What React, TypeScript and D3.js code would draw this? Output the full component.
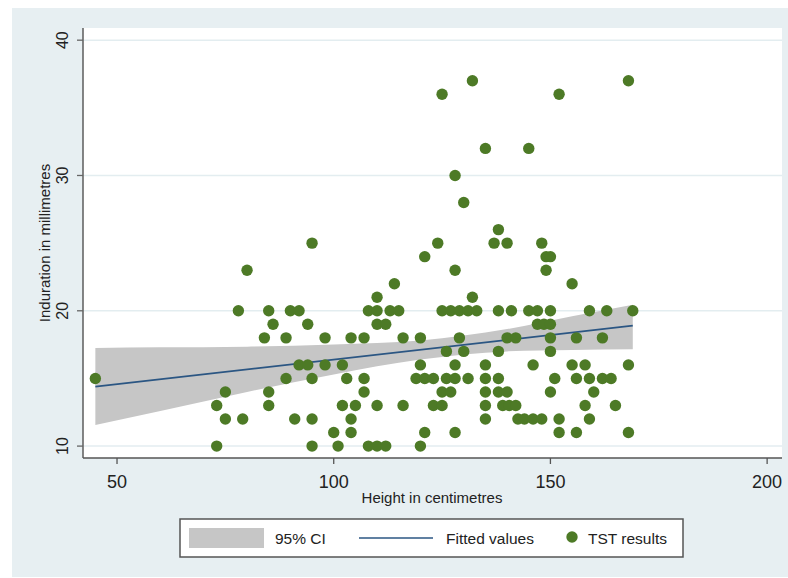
import React, { useEffect, useRef } from 'react';
import * as d3 from 'd3';

// induration rows (mm) and the heights (cm) of the children at each row
const indurationLevels = [37, 36, 32, 30, 28, 26, 25, 24, 23, 22, 21, 20, 19, 18, 17, 16, 15, 14, 13, 12, 11, 10];
const heightsByLevel = [
  [132, 168],
  [125, 152],
  [135, 145],
  [128],
  [130],
  [138],
  [95, 124, 137, 140, 148],
  [121, 149, 150],
  [80, 128, 149],
  [114, 155],
  [110, 132],
  [78, 85, 90, 92, 108, 110, 113, 115, 125, 127, 129, 131, 133, 138, 141, 145, 147, 150, 159, 163, 169],
  [86, 94, 110, 112, 147, 148.5, 150],
  [84, 89, 98, 104, 107, 116, 120, 129, 140, 142, 150, 156, 162],
  [126, 130, 138, 150],
  [92, 94, 98, 102, 120, 128, 135, 146, 155, 158, 168],
  [45, 89, 95, 103, 107, 119, 121, 123, 126, 128, 131, 135, 138, 151, 156, 159, 162, 164],
  [75, 85, 107, 125, 127, 135, 138, 140, 150, 160],
  [73, 85, 102, 105, 110, 116, 123, 125, 135, 139, 140.5, 142, 158, 165],
  [75, 79, 91, 95, 104, 135, 142.5, 144, 146, 148, 152, 159],
  [100, 104, 121, 128, 152, 156, 168],
  [73, 95, 101, 108, 110, 112, 120],
];

// fitted line and 95% CI band
const fitX = [45, 169];
const fitY = [14.4, 18.9];
const ciX = [45, 60, 80, 100, 120, 140, 155, 169];
const ciLow = [11.55, 12.6, 14.0, 15.3, 16.4, 17.0, 17.1, 17.15];
const ciHigh = [17.25, 17.3, 17.35, 17.5, 17.8, 18.65, 19.6, 20.45];

const xTicks = [50, 100, 150, 200];
const yTicks = [10, 20, 30, 40];

const GREEN = '#4d7a26';
const NAVY = '#2b5683';
const CI_GRAY = '#c6c6c6';
const BG = '#e7eff2';

export default function App() {
  const ref = useRef<SVGSVGElement | null>(null);

  useEffect(() => {
    const svg = d3.select(ref.current);
    svg.selectAll('*').remove();

    const x = d3.scaleLinear().domain([42.15, 203.2]).range([83, 781]);
    const y = d3.scaleLinear().domain([9.12, 40.9]).range([458, 28]);

    // outer region and plot region
    svg.append('rect').attr('x', 12).attr('y', 8).attr('width', 776).attr('height', 569).attr('fill', BG);
    svg.append('rect').attr('x', 83).attr('y', 28).attr('width', 699).attr('height', 430).attr('fill', '#fff');

    // grid
    svg.append('g').selectAll('line').data(yTicks).join('line')
      .attr('x1', 83).attr('x2', 782)
      .attr('y1', d => y(d)).attr('y2', d => y(d))
      .attr('stroke', '#e3edf0').attr('stroke-width', 1.5);

    // CI band
    const band = ciX.map((v, i) => ({ x: v, lo: ciLow[i], hi: ciHigh[i] }));
    const area = d3.area<{ x: number; lo: number; hi: number }>()
      .x(d => x(d.x)).y0(d => y(d.lo)).y1(d => y(d.hi))
      .curve(d3.curveMonotoneX);
    svg.append('path').datum(band).attr('d', area).attr('fill', CI_GRAY);

    // fitted line
    const fit = fitX.map((v, i) => [x(v), y(fitY[i])] as [number, number]);
    svg.append('path').attr('d', d3.line()(fit)).attr('fill', 'none')
      .attr('stroke', NAVY).attr('stroke-width', 1.7);

    // scatter
    const points = indurationLevels.flatMap((lvl, i) => heightsByLevel[i].map(h => ({ h, lvl })));
    svg.append('g').selectAll('circle').data(points).join('circle')
      .attr('cx', d => x(d.h)).attr('cy', d => y(d.lvl)).attr('r', 5.7)
      .attr('fill', GREEN);

    // axes
    const axisColor = '#666';
    svg.append('line').attr('x1', 83).attr('x2', 83).attr('y1', 28).attr('y2', 458)
      .attr('stroke', axisColor).attr('stroke-width', 1.6);
    svg.append('line').attr('x1', 83).attr('x2', 782).attr('y1', 458).attr('y2', 458)
      .attr('stroke', '#555').attr('stroke-width', 1.6);

    const yg = svg.append('g');
    yg.selectAll('line').data(yTicks).join('line')
      .attr('x1', 77).attr('x2', 83).attr('y1', d => y(d)).attr('y2', d => y(d))
      .attr('stroke', axisColor).attr('stroke-width', 1.3);
    yg.selectAll('text').data(yTicks).join('text')
      .attr('transform', d => `translate(68,${y(d)}) rotate(-90)`)
      .attr('text-anchor', 'middle')
      .attr('font-family', 'Liberation Sans, Arial, sans-serif')
      .attr('font-size', 16).attr('fill', '#222')
      .text(d => d);

    const xg = svg.append('g');
    xg.selectAll('line').data(xTicks).join('line')
      .attr('x1', d => x(d)).attr('x2', d => x(d)).attr('y1', 458).attr('y2', 464)
      .attr('stroke', '#555').attr('stroke-width', 1.3);
    xg.selectAll('text').data(xTicks).join('text')
      .attr('x', d => x(d)).attr('y', 488)
      .attr('text-anchor', 'middle')
      .attr('font-family', 'Liberation Sans, Arial, sans-serif')
      .attr('font-size', 18).attr('fill', '#222')
      .text(d => d);

    // titles
    svg.append('text').attr('x', 432).attr('y', 503).attr('text-anchor', 'middle')
      .attr('font-family', 'Liberation Sans, Arial, sans-serif').attr('font-size', 15).attr('fill', '#222')
      .text('Height in centimetres');
    svg.append('text').attr('transform', 'translate(50,243) rotate(-90)').attr('text-anchor', 'middle')
      .attr('font-family', 'Liberation Sans, Arial, sans-serif').attr('font-size', 15).attr('fill', '#222')
      .text('Induration in millimetres');

    // legend
    const lg = svg.append('g').attr('font-family', 'Liberation Sans, Arial, sans-serif')
      .attr('font-size', 15.5).attr('fill', '#222');
    lg.append('rect').attr('x', 180).attr('y', 519).attr('width', 503).attr('height', 38)
      .attr('fill', '#fff').attr('stroke', '#555').attr('stroke-width', 1.5);
    lg.append('rect').attr('x', 189).attr('y', 528).attr('width', 75).attr('height', 20).attr('fill', CI_GRAY);
    lg.append('text').attr('x', 275).attr('y', 544).text('95% CI');
    lg.append('line').attr('x1', 359).attr('x2', 433).attr('y1', 538).attr('y2', 538)
      .attr('stroke', NAVY).attr('stroke-width', 1.7);
    lg.append('text').attr('x', 446).attr('y', 544).text('Fitted values');
    lg.append('circle').attr('cx', 572).attr('cy', 537).attr('r', 5.7).attr('fill', GREEN);
    lg.append('text').attr('x', 588).attr('y', 544).text('TST results');
  }, []);

  return (
    <svg ref={ref} width={788} height={578} style={{ position: 'absolute', left: 0, top: 0 }} />
  );
}
